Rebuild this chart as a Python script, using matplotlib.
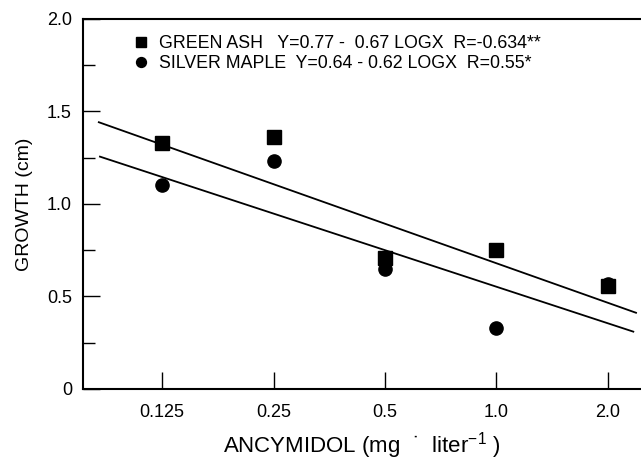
import matplotlib
matplotlib.use("Agg")
import matplotlib.pyplot as plt
from matplotlib.ticker import FixedLocator, FixedFormatter, NullFormatter

plt.rcParams['font.family'] = ['Liberation Sans', 'DejaVu Sans']
plt.rcParams['mathtext.fontset'] = 'custom'
plt.rcParams['mathtext.rm'] = 'Liberation Sans'

## datos
doses = [0.125, 0.25, 0.5, 1.0, 2.0]
dose_labels = ['0.125', '0.25', '0.5', '1.0', '2.0']
green_ash = [1.33, 1.36, 0.71, 0.75, 0.555]
silver_maple = [1.10, 1.23, 0.65, 0.33, 0.57]

# rectas de regresion (extremos como se dibujaron)
ash_fit_x = [0.0843, 2.385]
ash_fit_y = [1.442, 0.412]
maple_fit_x = [0.0849, 2.345]
maple_fit_y = [1.256, 0.31]

labels = ['GREEN ASH   Y=0.77 -  0.67 LOGX  R=-0.634**',
          'SILVER MAPLE  Y=0.64 - 0.62 LOGX  R=0.55*']

y_ticks = [0, 0.5, 1.0, 1.5, 2.0]
y_tick_labels = ['0', '0.5', '1.0', '1.5', '2.0']
y_minor = [0.25, 0.75, 1.25, 1.75]

fig = plt.figure(figsize=(6.41, 4.61), dpi=100)
ax = fig.add_axes([0.1295, 0.1562, 0.8705, 0.8026])

ax.plot(ash_fit_x, ash_fit_y, color='black', lw=1.3)
ax.plot(maple_fit_x, maple_fit_y, color='black', lw=1.3)
h1, = ax.plot(doses, green_ash, 's', color='black', ms=10, ls='none')
h2, = ax.plot(doses, silver_maple, 'o', color='black', ms=9.5, ls='none')

ax.set_xscale('log', base=2)
ax.set_xlim(0.0764, 2.46)
ax.set_ylim(0, 2.0)

ax.xaxis.set_major_locator(FixedLocator(doses))
ax.xaxis.set_major_formatter(FixedFormatter(dose_labels))
ax.xaxis.set_minor_locator(FixedLocator([]))
ax.xaxis.set_minor_formatter(NullFormatter())
ax.yaxis.set_major_locator(FixedLocator(y_ticks))
ax.yaxis.set_major_formatter(FixedFormatter(y_tick_labels))
ax.yaxis.set_minor_locator(FixedLocator(y_minor))

ax.tick_params(axis='both', which='major', direction='in', length=12, width=1, labelsize=13)
ax.tick_params(axis='x', which='major', pad=11)
ax.tick_params(axis='y', which='major', pad=8)
ax.tick_params(axis='y', which='minor', direction='in', length=8.5, width=1)

ax.spines['right'].set_visible(False)
for s in ['left', 'bottom', 'top']:
    ax.spines[s].set_linewidth(1.5)

ax.set_xlabel('ANCYMIDOL (mg  \u02d9  liter$^{-1}$ )', fontsize=16)
ax.set_ylabel('GROWTH (cm)', fontsize=14)
ax.xaxis.set_label_coords(0.5, -0.112)
ax.yaxis.set_label_coords(-0.09, 0.5)

ax.legend([h1, h2], labels, loc='upper left', bbox_to_anchor=(0.072, 0.98),
          frameon=False, markerscale=0.75, handlelength=1.0, handletextpad=0.5,
          labelspacing=0.15, fontsize=12.8, borderpad=0)

fig.savefig('out.png', dpi=100)
